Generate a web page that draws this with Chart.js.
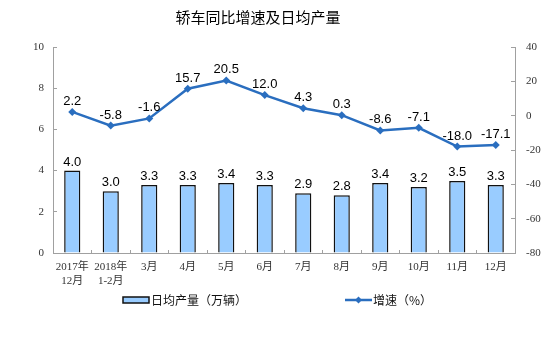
<!DOCTYPE html>
<html>
<head>
<meta charset="utf-8">
<script src="https://cdn.jsdelivr.net/npm/chart.js@4/dist/chart.umd.min.js"></script>
<style>
html,body{margin:0;padding:0;background:#fff;}
#wrap{width:550px;height:339px;position:relative;}
</style>
</head>
<body>
<div id="wrap"><canvas id="c" width="550" height="339"></canvas></div>
<script>
const chartTitle = '轿车同比增速及日均产量';
const categories = [['2017年','12月'], ['2018年','1-2月'], '3月', '4月', '5月', '6月', '7月', '8月', '9月', '10月', '11月', '12月'];
const dailyOutput = [4.0, 3.0, 3.3, 3.3, 3.4, 3.3, 2.9, 2.8, 3.4, 3.2, 3.5, 3.3];
const growthRate = [2.2, -5.8, -1.6, 15.7, 20.5, 12.0, 4.3, 0.3, -8.6, -7.1, -18.0, -17.1];
const barLabel = '日均产量（万辆）';
const lineLabel = '增速（%）';
const leftTicks = [0, 2, 4, 6, 8, 10];
const rightTicks = [-80, -60, -40, -20, 0, 20, 40];

const BAR_FILL = '#99CCFF';
const BAR_EDGE = '#111111';
const LINE_COL = '#2A6EBF';
const AXIS_COL = '#A0A0A0';
const TICK_COL = '#333333';
const serif = "'Liberation Serif', 'Noto Sans CJK SC', serif";
const cjk = "'Noto Sans CJK SC', sans-serif";

const extras = {
  id: 'extras',
  afterDatasetsDraw(chart) {
    const ctx = chart.ctx;
    ctx.save();
    ctx.fillStyle = '#000';
    ctx.font = "13px 'Liberation Sans', Arial, sans-serif";
    ctx.textAlign = 'center';
    ctx.textBaseline = 'alphabetic';
    const barMeta = chart.getDatasetMeta(1);
    barMeta.data.forEach((el, i) => {
      ctx.fillText(dailyOutput[i].toFixed(1), el.x, el.y - 5);
    });
    const lineMeta = chart.getDatasetMeta(0);
    lineMeta.data.forEach((el, i) => {
      ctx.fillText(growthRate[i].toFixed(1), el.x, el.y - 7);
    });
    ctx.restore();
  },
  afterDraw(chart) {
    const ctx = chart.ctx;
    ctx.save();
    // title
    ctx.fillStyle = '#000';
    ctx.font = "15px " + cjk;
    ctx.textAlign = 'center';
    ctx.textBaseline = 'middle';
    ctx.fillText(chartTitle, 258, 17);
    // legend
    const ly = 300;
    ctx.fillStyle = BAR_FILL;
    ctx.fillRect(123, ly - 3, 26, 6);
    ctx.strokeStyle = BAR_EDGE;
    ctx.lineWidth = 1.5;
    ctx.strokeRect(123, ly - 3, 26, 6);
    ctx.fillStyle = '#111';
    ctx.font = "12px " + cjk;
    ctx.textAlign = 'left';
    ctx.textBaseline = 'middle';
    ctx.fillText(barLabel, 151, ly);
    ctx.strokeStyle = LINE_COL;
    ctx.lineWidth = 2.5;
    ctx.beginPath();
    ctx.moveTo(345, ly);
    ctx.lineTo(372, ly);
    ctx.stroke();
    ctx.fillStyle = LINE_COL;
    ctx.beginPath();
    ctx.moveTo(358.5, ly - 3.5);
    ctx.lineTo(362, ly);
    ctx.lineTo(358.5, ly + 3.5);
    ctx.lineTo(355, ly);
    ctx.closePath();
    ctx.fill();
    ctx.fillStyle = '#111';
    ctx.fillText(lineLabel, 373, ly);
    ctx.restore();
  }
};

new Chart(document.getElementById('c'), {
  data: {
    labels: categories,
    datasets: [
      {
        type: 'line',
        label: lineLabel,
        data: growthRate,
        yAxisID: 'y1',
        borderColor: LINE_COL,
        backgroundColor: LINE_COL,
        borderWidth: 2.5,
        pointStyle: 'rectRot',
        pointRadius: 4,
        pointBorderWidth: 0,
        tension: 0,
        order: 0
      },
      {
        type: 'bar',
        label: barLabel,
        data: dailyOutput,
        yAxisID: 'y',
        backgroundColor: BAR_FILL,
        borderColor: BAR_EDGE,
        borderWidth: 1.5,
        barPercentage: 0.42,
        categoryPercentage: 1.0,
        order: 1
      }
    ]
  },
  options: {
    responsive: false,
    animation: false,
    layout: { padding: { top: 47, left: 0, right: 0, bottom: 0 } },
    plugins: { legend: { display: false }, title: { display: false }, tooltip: { enabled: false } },
    scales: {
      x: {
        offset: true,
        grid: { display: true, drawOnChartArea: false, offset: true, color: AXIS_COL, tickLength: -3 },
        border: { color: AXIS_COL, width: 1 },
        ticks: { color: TICK_COL, font: { family: serif, size: 11, lineHeight: 1.3 }, padding: 10, maxRotation: 0, autoSkip: false },
        afterFit(s) { s.height = 86; }
      },
      y: {
        position: 'left',
        min: 0, max: 10,
        afterBuildTicks(s) { s.ticks = leftTicks.map(v => ({ value: v })); },
        grid: { display: true, drawOnChartArea: false, color: AXIS_COL, tickLength: -4 },
        border: { color: AXIS_COL, width: 1 },
        ticks: { color: TICK_COL, font: { family: serif, size: 11 }, padding: 13 },
        afterFit(s) { s.width = 53; }
      },
      y1: {
        position: 'right',
        min: -80, max: 40,
        afterBuildTicks(s) { s.ticks = rightTicks.map(v => ({ value: v })); },
        grid: { display: true, drawOnChartArea: false, color: AXIS_COL, tickLength: -4 },
        border: { color: AXIS_COL, width: 1 },
        ticks: { color: TICK_COL, font: { family: serif, size: 11 }, padding: 15 },
        afterFit(s) { s.width = 35; }
      }
    }
  },
  plugins: [extras]
});
</script>
</body>
</html>
